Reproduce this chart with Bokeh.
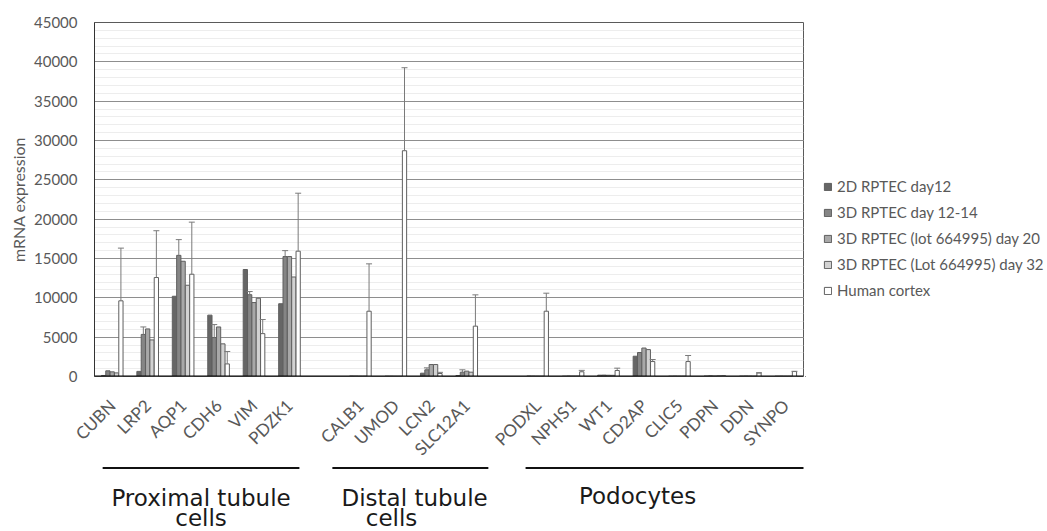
from math import pi
from bokeh.plotting import figure
from bokeh.layouts import column, row
from bokeh.models import (ColumnDataSource, FactorRange, Range1d, SingleIntervalTicker,
                          Legend, LegendItem, Whisker, TeeHead, Span)
from bokeh.transform import dodge
from bokeh.core.properties import value
from bokeh.embed import file_html
from bokeh.resources import INLINE

# ---------------- data ----------------
genes = ["CUBN", "LRP2", "AQP1", "CDH6", "VIM", "PDZK1",
         "CALB1", "UMOD", "LCN2", "SLC12A1",
         "PODXL", "NPHS1", "WT1", "CD2AP", "CLIC5", "PDPN", "DDN", "SYNPO"]

series_names = ["2D RPTEC day12", "3D RPTEC day 12-14", "3D RPTEC (lot 664995) day 20",
                "3D RPTEC (Lot 664995) day 32", "Human cortex"]

rptec_2d_day12 = [130, 650, 10200, 7800, 13600, 9250,
                  60, 40, 420, 120,
                  60, 40, 170, 2580, 40, 60, 50, 40]
rptec_3d_day12_14 = [720, 5350, 15400, 4950, 10400, 15250,
                     50, 40, 850, 550,
                     50, 60, 180, 3050, 50, 80, 60, 50]
rptec_3d_lot_day20 = [590, 6050, 14650, 6300, 9400, 15250,
                      40, 30, 1520, 680,
                      40, 50, 160, 3620, 40, 60, 50, 40]
rptec_3d_lot_day32 = [460, 4650, 11600, 4150, 9950, 12650,
                      40, 30, 1520, 550,
                      40, 50, 150, 3420, 40, 80, 40, 40]
human_cortex = [9620, 12580, 13000, 1600, 5450, 15930,
                8300, 28700, 380, 6400,
                8300, 600, 760, 1900, 1900, 100, 450, 630]

# error (plus side only); 0 = no error bar shown
err_3d_day12_14 = [0, 950, 2000, 1650, 400, 750,
                   0, 0, 250, 300,
                   0, 0, 0, 0, 0, 0, 0, 0]
err_human_cortex = [6700, 5950, 6620, 1580, 1790, 7370,
                    6020, 10550, 150, 3980,
                    2290, 180, 300, 260, 770, 0, 30, 30]

group_line1 = ["Proximal tubule", "Distal tubule", "Podocytes"]
group_line2 = ["cells", "cells", ""]
group_first = ["CUBN", "CALB1", "PODXL"]
group_last = ["PDZK1", "SLC12A1", "SYNPO"]

y_max = 45000
y_tick_step = 5000

# ---------------- layout sizes ----------------
factors = genes[:6] + [" "] + genes[6:10] + ["  "] + genes[10:]

W = 1047
W_MAIN = 805
FRAME_TOP, FRAME_BOTTOM = 22, 376
FRAME_L, FRAME_R = 94, 803
BELOW_PAD = 11
H_MAIN = FRAME_BOTTOM + BELOW_PAD
H_BELOW = 531 - H_MAIN
DY = FRAME_BOTTOM - H_MAIN  # converts "px below the axis" to strip coordinates

FONT = "Lato"
GRAY_TXT = "#595959"

x_range = FactorRange(*factors, range_padding=0, factor_padding=0)

# ---------------- main figure ----------------
p = figure(width=W_MAIN, height=H_MAIN, x_range=x_range, y_range=Range1d(0, y_max),
           output_backend="svg", toolbar_location=None, x_axis_location=None,
           min_border_left=FRAME_L, min_border_right=W_MAIN - FRAME_R,
           min_border_top=FRAME_TOP, min_border_bottom=BELOW_PAD)

colors = ["#666666", "#858585", "#a8a8a8", "#d2d2d2", "#ffffff"]
values = [rptec_2d_day12, rptec_3d_day12_14, rptec_3d_lot_day20, rptec_3d_lot_day32, human_cortex]
errors = [None, err_3d_day12_14, None, None, err_human_cortex]
BAR_LINE = "#5f5f5f"

bw = 0.1225
offsets = [-2 * bw, -bw, 0, bw, 2 * bw]

for i, (vals, col) in enumerate(zip(values, colors)):
    src = ColumnDataSource(dict(gene=genes, val=vals))
    p.vbar(x=dodge("gene", offsets[i], range=x_range), top="val", width=bw * 0.98,
           source=src, fill_color=col, line_color=BAR_LINE, line_width=1)
    errs = errors[i]
    if errs is not None:
        g = [gg for gg, e in zip(genes, errs) if e > 0]
        lo = [v for v, e in zip(vals, errs) if e > 0]
        up = [v + e for v, e in zip(vals, errs) if e > 0]
        esrc = ColumnDataSource(dict(gene=g, lo=lo, up=up))
        w = Whisker(base=dodge("gene", offsets[i], range=x_range), lower="lo", upper="up",
                    source=esrc, line_color="#7a7a7a", line_width=1, level="overlay",
                    upper_head=TeeHead(size=6, line_color="#7a7a7a", line_width=1),
                    lower_head=None)
        p.add_layout(w)

# black category-axis baseline
p.add_layout(Span(location=0, dimension="width", line_color="#000000", line_width=2))

p.yaxis.ticker = SingleIntervalTicker(interval=y_tick_step, num_minor_ticks=5)
p.ygrid.grid_line_color = "#8e8e8e"
p.ygrid.grid_line_width = 1
p.ygrid.minor_grid_line_color = "#ededed"
p.xgrid.grid_line_color = None
p.outline_line_color = "#5a5a5a"

p.yaxis.axis_label = "mRNA expression"
p.yaxis.axis_label_text_font = FONT
p.yaxis.axis_label_text_font_size = "16px"
p.yaxis.axis_label_text_font_style = "normal"
p.yaxis.axis_label_text_color = GRAY_TXT
p.yaxis.axis_label_standoff = 3
p.yaxis.major_label_text_font = FONT
p.yaxis.major_label_text_font_size = "15px"
p.yaxis.major_label_text_color = GRAY_TXT
p.yaxis.major_label_standoff = 11
p.yaxis.major_tick_line_color = None
p.yaxis.minor_tick_line_color = None
p.yaxis.axis_line_color = "#333333"

# ---------------- legend figure (frame aligned with the main frame) ----------------
pl = figure(width=W - W_MAIN, height=H_MAIN, x_range=(0, 1), y_range=(0, 1),
            output_backend="svg", toolbar_location=None,
            x_axis_location=None, y_axis_location=None,
            min_border_left=0, min_border_right=0, min_border_top=0, min_border_bottom=0)
pl.grid.visible = False
pl.outline_line_color = None
leg_renderers = []
for col in colors:
    # legend proxy, kept outside the visible range
    leg_renderers.append(pl.vbar(x=[-5], top=[-5], bottom=[-6], width=0.1, fill_color=col,
                                 line_color=BAR_LINE, line_width=1))
legend = Legend(items=[LegendItem(label=n, renderers=[r]) for n, r in zip(series_names, leg_renderers)],
                location=(18, 76), glyph_width=9, glyph_height=9, label_height=20, spacing=6,
                padding=0, margin=0, border_line_color=None, background_fill_alpha=0,
                label_text_font=FONT, label_text_font_size="15px", label_text_color=GRAY_TXT,
                label_standoff=5)
pl.add_layout(legend)

# ---------------- strip below: category labels, group lines, group names ----------------
# same pixel-per-category mapping as the main frame, but the frame is widened
# by EXTRA px on each side so rotated labels are not clipped
EXTRA = 40
cat_px = (FRAME_R - FRAME_L) / len(factors)
x_range2 = FactorRange(*factors, factor_padding=0,
                       range_padding=EXTRA / cat_px, range_padding_units="absolute")

p2 = figure(width=W, height=H_BELOW, x_range=x_range2, y_range=Range1d(H_BELOW, 0),
            output_backend="svg", toolbar_location=None,
            x_axis_location=None, y_axis_location=None,
            min_border_left=FRAME_L - EXTRA, min_border_right=W - FRAME_R - EXTRA,
            min_border_top=0, min_border_bottom=0)
p2.grid.visible = False
p2.outline_line_color = None

# category tick labels (rotated 45 degrees, placed on the categorical scale)
p2.text(x=genes, y=[26 + DY] * len(genes), text=genes, angle=pi / 4,
        text_align="right", text_baseline="middle",
        text_font=value(FONT), text_font_size="17px", text_color=GRAY_TXT)

line_pad_left = [0.23, -0.29, 0.16]
line_pad_right = [-0.22, 0.11, 0.0]
text1_shift = [0.0, 0.12, -0.76]
text2_shift = [0.0, -0.53, 0.0]

lx0, lx1, t_x, t_y, t_txt = [], [], [], [], []
for k in range(3):
    x0 = factors.index(group_first[k]) + line_pad_left[k]
    x1 = factors.index(group_last[k]) + 1 + line_pad_right[k]
    lx0.append(x0)
    lx1.append(x1)
    xc = (x0 + x1) / 2
    if group_line2[k]:
        t_x += [xc + text1_shift[k], xc + text2_shift[k]]
        t_y += [121 + DY, 141 + DY]
        t_txt += [group_line1[k], group_line2[k]]
    else:
        t_x.append(xc + text1_shift[k])
        t_y.append(119 + DY)
        t_txt.append(group_line1[k])

p2.segment(x0=lx0, x1=lx1, y0=[91.5 + DY] * 3, y1=[91.5 + DY] * 3,
           line_color="#111111", line_width=2)
p2.text(x=t_x, y=t_y, text=t_txt, text_align="center", text_baseline="middle",
        text_font=value("DejaVu Sans"), text_font_size="23px", text_color="#1a1a1a")

layout = column(row(p, pl, spacing=0), p2, spacing=0)
open("out.html", "w").write(file_html(layout, INLINE))
